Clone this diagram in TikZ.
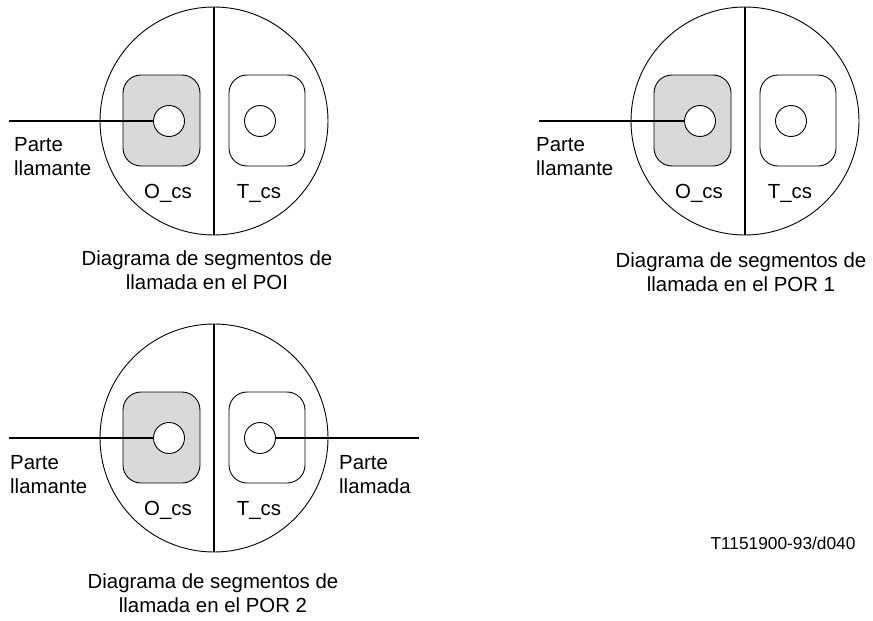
\documentclass[tikz,border=0pt]{standalone}
\usepackage{fontspec}
\setmainfont{Liberation Sans}
\usetikzlibrary{positioning}
\definecolor{segfill}{HTML}{D9D9D9}
\tikzset{
  txt/.style={font=\fontsize{20.4}{24}\selectfont,inner sep=0pt},
  port/.style={circle,draw,fill=white,minimum size=31pt,inner sep=0pt,line width=0.9pt},
  wire/.style={line width=1.8pt},
  csbox/.style={draw,rounded corners=18pt,line width=0.9pt}
}
% one segment diagram: centre x, centre y, name
\newcommand{\segdiag}[3]{%
  \draw[line width=0.9pt] (#1,#2) circle (114pt);
  \draw[wire] (#1,#2-114) -- (#1,#2+114);
  \filldraw[csbox,fill=segfill] (#1-91,#2-46) rectangle (#1-14,#2+45);
  \draw[csbox] (#1+15,#2-46) rectangle (#1+91,#2+45);
  \node[port] (#3o) at (#1-45,#2) {};
  \node[port] (#3t) at (#1+46,#2) {};
  \node[txt,anchor=base] (#3ol) at (#1-46,#2+77) {O\_cs};
  \node[txt,anchor=base] (#3tl) at (#1+45,#2+77) {T\_cs};
}

\begin{document}
\begin{tikzpicture}[x=1pt,y=-1pt]
\useasboundingbox[fill=white] (0,0) rectangle (873,621);
\segdiag{214}{121}{poi}
\segdiag{745}{121}{porA}
\segdiag{214}{438}{porB}
% calling / called parties
\coordinate (poiin) at (9,121);
\coordinate (porAin) at (539,121);
\coordinate (porBin) at (9,438);
\coordinate (porBout) at (419,438);
\draw[wire] (poiin) -- (poio.west);
\draw[wire] (porAin) -- (porAo.west);
\draw[wire] (porBin) -- (porBo.west);
\draw[wire] (porBt.east) -- (porBout);
\node[txt,align=left,anchor=west] (poicall) at (14,157) {Parte\\llamante};
\node[txt,align=left,anchor=west] (porAcall) at (536,157) {Parte\\llamante};
\node[txt,align=left,anchor=west] (porBcall) at (10,475) {Parte\\llamante};
\node[txt,align=left,anchor=west] (porBcalled) at (339,475) {Parte\\llamada};
% captions
\node[txt,align=center,anchor=north] (poicap) at (207,251) {Diagrama de segmentos de\\llamada en el POI};
\node[txt,align=center,anchor=north] (porAcap) at (741,253) {Diagrama de segmentos de\\llamada en el POR 1};
\node[txt,align=center,anchor=north] (porBcap) at (213,574) {Diagrama de segmentos de\\llamada en el POR 2};
\node[font=\fontsize{17.3}{20}\selectfont,inner sep=0pt] (ref) at (783,543) {T1151900-93/d040};
\end{tikzpicture}
\end{document}
